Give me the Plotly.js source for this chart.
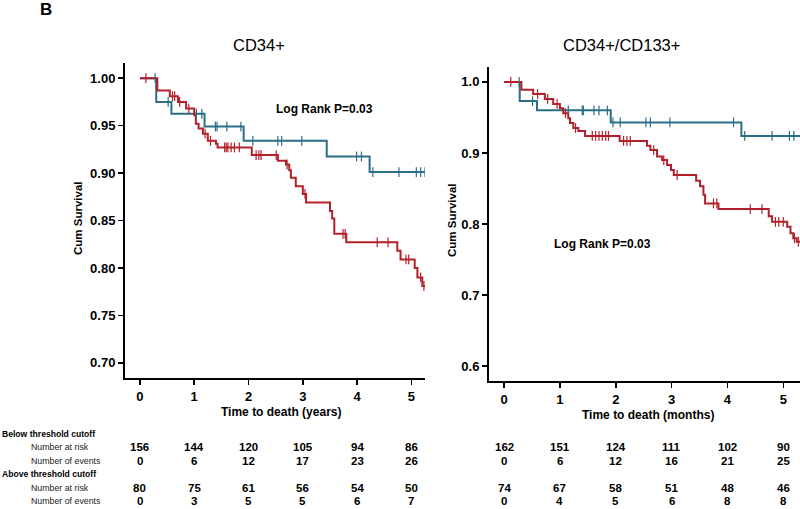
<!DOCTYPE html>
<html>
<head>
<meta charset="utf-8">
<script src="https://cdn.plot.ly/plotly-3.0.1.min.js"></script>
<style>html,body{margin:0;padding:0;background:#fff}#chart{width:800px;height:509px}</style>
</head>
<body>
<div id="chart"></div>
<script>
// ---- Data ----
// Left panel: CD34+
const cd34AboveT = [0, 0.30, 0.58, 1.19, 1.91, 3.44, 4.23, 5.25];
const cd34AboveS = [1, 0.975, 0.9625, 0.949, 0.934, 0.9175, 0.901, 0.901];
const cd34AboveCensor = [0.28, 0.52, 1.04, 1.14, 1.39, 1.42, 1.6, 1.86, 2.08, 2.54, 2.61, 2.98, 3.99, 4.08, 4.29, 4.77, 5.09, 5.17, 5.25];

const cd34BelowT = [0, 0.32, 0.55, 0.70, 0.85, 1.00, 1.03, 1.08, 1.16, 1.25, 1.40, 1.43, 2.06, 2.54, 2.69, 2.75, 2.78, 2.87, 3.00, 3.06, 3.50, 3.54, 3.58, 3.80, 4.74, 4.80, 5.06, 5.11, 5.20, 5.25];
const cd34BelowS = [1, 0.987, 0.981, 0.975, 0.968, 0.961, 0.952, 0.947, 0.9415, 0.934, 0.931, 0.927, 0.919, 0.913, 0.909, 0.903, 0.895, 0.886, 0.878, 0.869, 0.860, 0.852, 0.836, 0.827, 0.818, 0.809, 0.800, 0.790, 0.781, 0.781];
const cd34BelowCensor = [0.11, 0.6, 0.64, 0.73, 0.9, 1.2, 1.3, 1.56, 1.59, 1.62, 1.68, 1.74, 1.83, 2.14, 2.19, 2.23, 2.51, 2.71, 3.04, 3.74, 3.78, 4.37, 4.57, 4.90, 4.95, 5.17, 5.23];

// Right panel: CD34+/CD133+
const cd133AboveT = [0, 0.28, 0.59, 1.91, 4.25, 5.3];
const cd133AboveS = [1, 0.973, 0.960, 0.943, 0.924, 0.924];
const cd133AboveCensor = [0.27, 0.51, 1.15, 1.40, 1.42, 1.61, 1.70, 1.85, 1.95, 2.08, 2.54, 2.62, 2.97, 4.11, 4.31, 4.80, 5.11, 5.19];

const cd133BelowT = [0, 0.31, 0.52, 0.73, 0.88, 1.00, 1.06, 1.15, 1.18, 1.24, 1.33, 1.45, 2.07, 2.56, 2.62, 2.74, 2.83, 2.92, 2.99, 3.04, 3.44, 3.51, 3.57, 3.60, 3.84, 4.74, 4.80, 5.07, 5.13, 5.18, 5.24, 5.30];
const cd133BelowS = [1, 0.989, 0.983, 0.976, 0.969, 0.963, 0.956, 0.949, 0.942, 0.935, 0.931, 0.924, 0.917, 0.910, 0.904, 0.895, 0.890, 0.883, 0.876, 0.869, 0.861, 0.853, 0.841, 0.829, 0.821, 0.811, 0.803, 0.796, 0.787, 0.780, 0.775, 0.775];
const cd133BelowCensor = [0.12, 0.6, 0.78, 0.95, 1.1, 1.28, 1.58, 1.64, 1.70, 1.76, 1.82, 1.87, 2.14, 2.20, 2.26, 2.68, 2.86, 3.1, 3.75, 3.81, 4.41, 4.62, 4.86, 4.92, 5.0, 5.2, 5.27];

// Risk table
const tableTimes = [0, 1, 2, 3, 4, 5];
const cd34BelowRisk = [156, 144, 120, 105, 94, 86];
const cd34BelowEvents = [0, 6, 12, 17, 23, 26];
const cd34AboveRisk = [80, 75, 61, 56, 54, 50];
const cd34AboveEvents = [0, 3, 5, 5, 6, 7];
const cd133BelowRisk = [162, 151, 124, 111, 102, 90];
const cd133BelowEvents = [0, 6, 12, 16, 21, 25];
const cd133AboveRisk = [74, 67, 58, 51, 48, 46];
const cd133AboveEvents = [0, 4, 5, 6, 8, 8];

const leftTicks = [0.70, 0.75, 0.80, 0.85, 0.90, 0.95, 1.00];
const rightTicks = [0.6, 0.7, 0.8, 0.9, 1.0];

// ---- Styling ----
const BLUE = '#2a6e87';
const RED = '#b3202a';
const W = 800, H = 509;

function stepAt(T, S, t) {
  let v = S[0];
  for (let i = 0; i < T.length; i++) { if (T[i] <= t) v = S[i]; }
  return v;
}
function curve(T, S, color, xa, ya) {
  return {x: T, y: S, xaxis: xa, yaxis: ya, type: 'scatter', mode: 'lines',
    line: {shape: 'hv', color: color, width: 2}, hoverinfo: 'skip', showlegend: false};
}
function censor(C, T, S, color, xa, ya) {
  return {x: C, y: C.map(t => stepAt(T, S, t)), xaxis: xa, yaxis: ya, type: 'scatter', mode: 'markers',
    marker: {symbol: 'line-ns-open', size: 7, color: color, line: {color: color, width: 1.2}},
    hoverinfo: 'skip', showlegend: false};
}

const data = [
  curve(cd34AboveT, cd34AboveS, BLUE, 'x', 'y'),
  curve(cd34BelowT, cd34BelowS, RED, 'x', 'y'),
  censor(cd34AboveCensor, cd34AboveT, cd34AboveS, BLUE, 'x', 'y'),
  censor(cd34BelowCensor, cd34BelowT, cd34BelowS, RED, 'x', 'y'),
  curve(cd133AboveT, cd133AboveS, BLUE, 'x2', 'y2'),
  curve(cd133BelowT, cd133BelowS, RED, 'x2', 'y2'),
  censor(cd133AboveCensor, cd133AboveT, cd133AboveS, BLUE, 'x2', 'y2'),
  censor(cd133BelowCensor, cd133BelowT, cd133BelowS, RED, 'x2', 'y2')
];

const FONT = 'Liberation Sans, Arial, sans-serif';
const tickFont = {family: FONT, size: 13, color: '#000', weight: 'bold'};
function axisBase() {
  return {showline: true, linecolor: '#000', linewidth: 2, showgrid: false, zeroline: false,
    ticks: 'outside', ticklen: 5, tickwidth: 1.5, tickcolor: '#000', tickfont: tickFont, fixedrange: true};
}
const py = p => 1 - p / H;
const px = p => p / W;

const annotations = [];
function ann(text, x, y, opts) {
  annotations.push(Object.assign({text: text, x: x, y: y, xref: 'paper', yref: 'paper', showarrow: false,
    xanchor: 'center', yanchor: 'middle', font: {family: FONT, size: 12, color: '#000', weight: 'bold'}}, opts || {}));
}
ann('B', px(46), py(9), {font: {family: FONT, size: 17, color: '#000', weight: 'bold'}});
ann('CD34+', px(259), py(45), {font: {family: FONT, size: 16.5, color: '#000'}});
ann('CD34+/CD133+', px(621), py(45), {font: {family: FONT, size: 16.5, color: '#000'}});
ann('Log Rank P=0.03', px(324), py(109));
ann('Log Rank P=0.03', px(602), py(244));
ann('Cum Survival', px(78), py(218), {textangle: -90, font: {family: FONT, size: 11.5, color: '#000', weight: 'bold'}});
ann('Cum Survival', px(452), py(220), {textangle: -90, font: {family: FONT, size: 11.5, color: '#000', weight: 'bold'}});
ann('Time to death (years)', px(281), py(412));
ann('Time to death (months)', px(648), py(415));

// Table row positions (pixels from top)
const rowY = [433.5, 447, 460.5, 474, 487.5, 501];
const labelBold = {family: FONT, size: 8.6, color: '#000', weight: 'bold'};
const labelReg = {family: FONT, size: 8.8, color: '#222'};
ann('Below threshold cutoff', 0, py(rowY[0]), {xanchor: 'left', font: labelBold});
ann('Number at risk', px(29), py(rowY[1]), {xanchor: 'left', font: labelReg});
ann('Number of events', px(29), py(rowY[2]), {xanchor: 'left', font: labelReg});
ann('Above threshold cutoff', 0, py(rowY[3]), {xanchor: 'left', font: labelBold});
ann('Number at risk', px(29), py(rowY[4]), {xanchor: 'left', font: labelReg});
ann('Number of events', px(29), py(rowY[5]), {xanchor: 'left', font: labelReg});

function tableRow(vals, xref, yPix) {
  vals.forEach((v, i) => {
    annotations.push({text: String(v), x: tableTimes[i], y: py(yPix), xref: xref, yref: 'paper', showarrow: false,
      xanchor: 'center', yanchor: 'middle', font: {family: FONT, size: 11.5, color: '#000', weight: 'bold'}});
  });
}
tableRow(cd34BelowRisk, 'x', rowY[1]);
tableRow(cd34BelowEvents, 'x', rowY[2]);
tableRow(cd34AboveRisk, 'x', rowY[4]);
tableRow(cd34AboveEvents, 'x', rowY[5]);
tableRow(cd133BelowRisk, 'x2', rowY[1]);
tableRow(cd133BelowEvents, 'x2', rowY[2]);
tableRow(cd133AboveRisk, 'x2', rowY[4]);
tableRow(cd133AboveEvents, 'x2', rowY[5]);

const layout = {
  width: W, height: H, margin: {l: 0, r: 0, t: 0, b: 0}, paper_bgcolor: '#fff', plot_bgcolor: '#fff',
  showlegend: false,
  xaxis: Object.assign(axisBase(), {domain: [px(125), px(425)], range: [-0.275, 5.25], tickvals: tableTimes, anchor: 'y'}),
  yaxis: Object.assign(axisBase(), {domain: [py(378), py(63)], range: [0.684, 1.016], tickvals: leftTicks, tickformat: '.2f', anchor: 'x'}),
  xaxis2: Object.assign(axisBase(), {domain: [px(489), 1], range: [-0.27, 5.3], tickvals: tableTimes, anchor: 'y2'}),
  yaxis2: Object.assign(axisBase(), {domain: [py(381), py(67)], range: [0.579, 1.021], tickvals: rightTicks, tickformat: '.1f', anchor: 'x2'}),
  annotations: annotations
};

Plotly.newPlot('chart', data, layout, {displayModeBar: false, staticPlot: true});
</script>
</body>
</html>
